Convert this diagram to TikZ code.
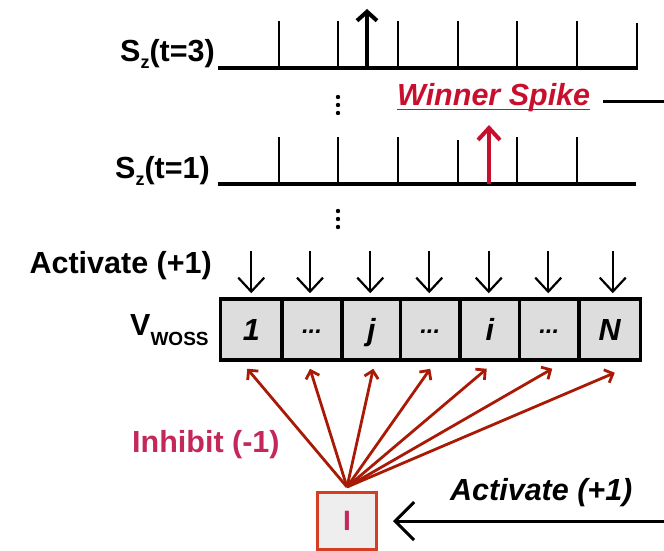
\documentclass[tikz,border=0pt]{standalone}
\usepackage{fontspec}
\setmainfont{Liberation Sans}
\usetikzlibrary{arrows.meta,calc}

\definecolor{spikered}{RGB}{200,16,46}
\definecolor{inhred}{RGB}{168,26,6}
\definecolor{inhtext}{RGB}{196,40,90}
\definecolor{iborder}{RGB}{214,62,36}
\definecolor{cellgray}{RGB}{220,221,220}
\definecolor{ifill}{RGB}{238,238,238}

\newcommand{\bigfont}{\fontsize{30.5}{30.5}\selectfont\bfseries}
\newcommand{\celldots}{\fontsize{24}{24}\selectfont\raisebox{7pt}{...}}

\begin{document}
\begin{tikzpicture}[x=1pt,y=-1pt,
  lbl/.style={inner sep=0pt, font=\bigfont},
  cell/.style={draw, line width=3.5pt, fill=cellgray, inner sep=0pt,
    minimum height=61pt, text height=21pt, text depth=0pt,
    font=\bigfont\itshape},
  timeline/.style={line width=3.5pt},
  tick/.style={line width=2.8pt},
  actarrow/.style={line width=1.9pt, -{Straight Barb[length=14pt,width=26pt,line width=2.2pt]}},
  inharrow/.style={inhred, line width=2.8pt, -{Straight Barb[length=7pt,width=14pt,line width=2.8pt]}},
  dotmark/.style={fill=black, draw=none}
]
\useasboundingbox (0,0) rectangle (664,551);

% ---- spike train at t = 3 ----
\node[lbl, anchor=base east] (s3) at (215,62)
  {S\raisebox{-7pt}{\fontsize{18}{18}\selectfont z}(t=3)};
\draw[timeline] (218,68) -- (637,68);
\foreach \x in {279,338,398,458,517,577}
  \draw[tick] (\x,68) -- (\x,21);
\draw[tick] (637,69.7) -- (637,23);
\draw[line width=4pt, -{Straight Barb[length=9pt,width=20pt,line width=4pt]}] (367,68) -- (367,9);

% vertical ellipsis between the trains
\foreach \y in {97,105,113}
  \fill[dotmark] (338,\y) circle (2.2);

% ---- winner label ----
\node[lbl, anchor=base west, text=spikered, font=\bigfont\itshape] (win) at (397,106) {Winner Spike};
\draw[spikered, line width=1.6pt] ($(win.base west)+(0,3.5)$) -- ($(win.base east)+(0,3.5)$);
\coordinate (winout) at (666,101);
\draw[line width=3pt] ($(win.base east)+(13,-5)$) -- (winout);

% ---- spike train at t = 1 ----
\node[lbl, anchor=base east] (s1) at (210,178)
  {S\raisebox{-7pt}{\fontsize{18}{18}\selectfont z}(t=1)};
\draw[timeline] (218,184) -- (636,184);
\foreach \x in {279,338,398,517,577}
  \draw[tick] (\x,184) -- (\x,137);
\draw[tick] (458,184) -- (458,140);
\draw[spikered, line width=4pt, -{Straight Barb[length=12pt,width=22pt,line width=4pt]}] (489,184) -- (489,125);

\foreach \y in {211,219,227}
  \fill[dotmark] (338,\y) circle (2.2);

% ---- WOSS register ----
\node[lbl, anchor=base west] (vw) at (130,335)
  {V\raisebox{-10pt}{\fontsize{19}{19}\selectfont WOSS}};
\node[lbl, anchor=base east] (act) at (212,273) {Activate (+1)};

\node[cell, minimum width=61.5pt] (c1) at (251.25,329.5) {1};
\node[cell, minimum width=60pt]   (c2) at (312,329.5)    {\celldots};
\node[cell, minimum width=58.5pt] (c3) at (371.25,329.5) {j};
\node[cell, minimum width=59.5pt] (c4) at (430.25,329.5) {\celldots};
\node[cell, minimum width=59.5pt] (c5) at (489.75,329.5) {i};
\node[cell, minimum width=59.5pt] (c6) at (549.25,329.5) {\celldots};
\node[cell, minimum width=61.5pt] (c7) at (609.75,329.5) {N};

\foreach \k/\dx in {1/0,2/-2,3/-1,4/-1,5/-1,6/-1,7/3} {
  \coordinate (a\k) at ($(c\k.north)+(\dx,-46)$);
  \draw[actarrow, shorten >=4pt] (a\k) -- (a\k |- c\k.north);
}

% ---- inhibitory neuron ----
\node[draw=iborder, line width=3pt, fill=ifill, minimum width=59pt, minimum height=57pt,
      inner sep=0pt, font=\fontsize{28}{28}\selectfont\bfseries, text=inhtext] (Ibox) at (347,521) {I};
\coordinate (src) at ($(Ibox.north)+(0,-4)$);
\coordinate (i1) at ($(c1.south)+(-4,7)$);
\coordinate (i2) at ($(c2.south)+(-2,7)$);
\coordinate (i3) at ($(c3.south)+(2,7)$);
\coordinate (i4) at ($(c4.south)+(0,7)$);
\coordinate (i5) at ($(c5.south)+(-3,7)$);
\coordinate (i6) at ($(c6.south)+(3,7)$);
\coordinate (i7) at ($(c7.south)+(5,11)$);
\foreach \k in {1,...,7}
  \draw[inharrow] (src) -- (i\k);

\node[lbl, anchor=base west, text=inhtext] (inh) at (132,452) {Inhibit (-1)};

% ---- external activation of the inhibitory neuron ----
\node[lbl, anchor=base west, font=\bigfont\itshape] (act2) at (450,500) {Activate (+1)};
\coordinate (actin) at (672,521);
\draw[line width=3pt, -{Straight Barb[length=19pt,width=38pt,line width=3pt]}, shorten >=15pt] (actin) -- (Ibox.east);
\end{tikzpicture}
\end{document}
